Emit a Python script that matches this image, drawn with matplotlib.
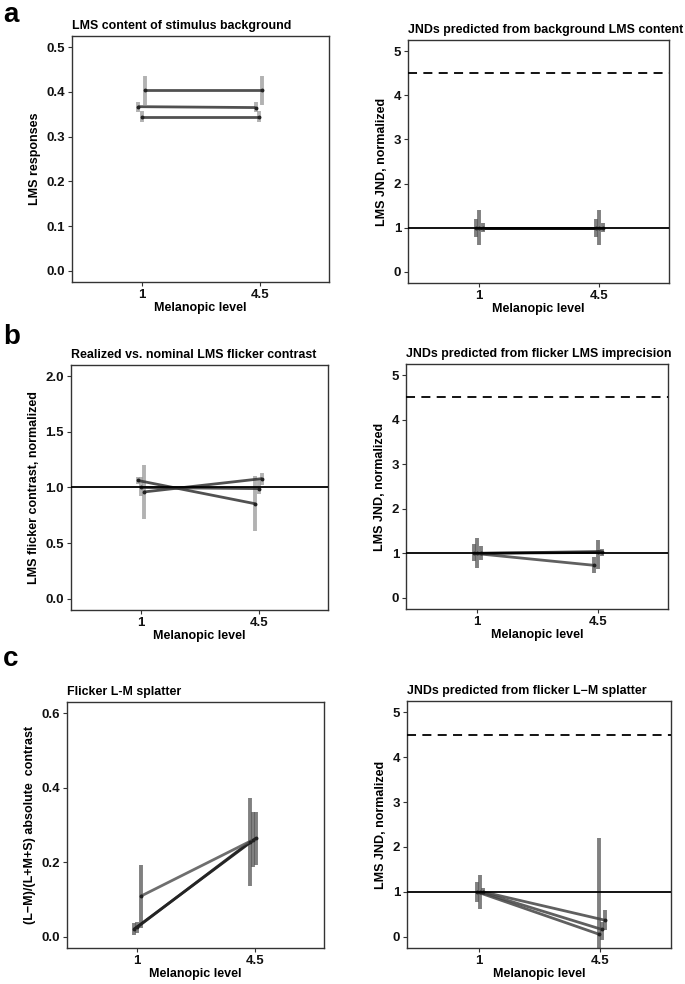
import numpy as np
import matplotlib
matplotlib.use("Agg")
import matplotlib.pyplot as plt

plt.rcParams['font.family'] = ['Liberation Sans', 'DejaVu Sans']
plt.rcParams['font.weight'] = 'bold'

levels = ["1", "4.5"]

# a, left: LMS content of background (mean, lower, upper) per series
a_bg_mean = [[0.404, 0.404], [0.367, 0.365], [0.345, 0.345]]
a_bg_lo = [[0.371, 0.371], [0.354, 0.354], [0.332, 0.332]]
a_bg_hi = [[0.436, 0.436], [0.378, 0.377], [0.358, 0.358]]

# a, right: JNDs from background
a_jnd_mean = [[1.0, 1.0], [1.0, 1.0], [1.0, 1.0]]
a_jnd_lo = [[0.80, 0.80], [0.60, 0.60], [0.90, 0.90]]
a_jnd_hi = [[1.20, 1.20], [1.40, 1.40], [1.10, 1.10]]

# b, left: realized vs nominal flicker contrast
b_flk_mean = [[1.063, 0.854], [1.00, 0.99], [0.96, 1.08]]
b_flk_lo = [[1.03, 0.61], [0.92, 0.94], [0.72, 1.02]]
b_flk_hi = [[1.09, 1.10], [1.09, 1.08], [1.20, 1.13]]

# b, right: JNDs from flicker imprecision
b_jnd_mean = [[1.0, 0.73], [1.0, 1.02], [1.0, 1.04]]
b_jnd_lo = [[0.82, 0.55], [0.66, 0.64], [0.86, 0.95]]
b_jnd_hi = [[1.20, 0.92], [1.35, 1.29], [1.16, 1.10]]

# c, left: L-M splatter
c_spl_mean = [[0.021, 0.265], [0.025, 0.255], [0.109, 0.26]]
c_spl_lo = [[0.004, 0.194], [0.011, 0.136], [0.024, 0.188]]
c_spl_hi = [[0.036, 0.334], [0.039, 0.372], [0.194, 0.335]]

# c, right: JNDs from splatter
c_jnd_mean = [[1.0, 0.06], [1.0, 0.165], [1.0, 0.37]]
c_jnd_lo = [[0.77, -0.40], [0.61, -0.07], [0.93, 0.15]]
c_jnd_hi = [[1.21, 2.19], [1.37, 0.33], [1.08, 0.59]]

W, H = 685, 984
fig = plt.figure(figsize=(W / 100, H / 100), dpi=100)


def make_axes(x0, y0, x1, y1):
    return fig.add_axes([x0 / W, 1 - y1 / H, (x1 - x0) / W, (y1 - y0) / H])


def panel(ax, mean, lo, hi, offs, title, ylabel, ylim, yticks, yfmt,
          errc, linec, ref=False):
    x = np.array([1.0, 2.0])
    for i in range(len(mean)):
        xi = x + np.array(offs[i])
        ax.vlines(xi, lo[i], hi[i], color=errc[i], lw=2.8, alpha=0.75, zorder=2)
    for i in range(len(mean)):
        xi = x + np.array(offs[i])
        ax.plot(xi, mean[i], color=linec[i], lw=2.0, alpha=0.85, zorder=3,
                solid_capstyle='butt')
        ax.plot(xi, mean[i], 'o', color='#222222', ms=1.8, zorder=4)
    if ref:
        ax.axhline(1.0, color='black', lw=1.3, zorder=5)
        ax.axhline(4.5, color='black', lw=1.3, ls=(0, (5, 3.5)), zorder=5)
    ax.set_xlim(0.41, 2.58)
    ax.set_ylim(*ylim)
    ax.set_xticks([1, 2])
    ax.set_xticklabels(levels)
    ax.set_yticks(yticks)
    ax.set_yticklabels([yfmt.format(v) for v in yticks])
    ax.tick_params(length=3, width=0.8, color='#333333', labelsize=9.5,
                   pad=2)
    for lab in ax.get_xticklabels() + ax.get_yticklabels():
        lab.set_fontweight('bold')
        lab.set_color('#111111')
    for s in ax.spines.values():
        s.set_color('#333333')
        s.set_linewidth(1.0)
    ax.set_title(title, loc='left', fontsize=8.9, fontweight='bold', pad=5)
    ax.set_xlabel("Melanopic level", fontsize=9, fontweight='bold', labelpad=1)
    ax.set_ylabel(ylabel, fontsize=9, fontweight='bold', labelpad=4)


light = ['#999999'] * 3
dark = ['#555555'] * 3

ax = make_axes(72, 36, 329, 282)
panel(ax, a_bg_mean, a_bg_lo, a_bg_hi,
      [(0.023, 0.013), (-0.03, -0.04), (-0.003, -0.014)],
      "LMS content of stimulus background", "LMS responses",
      (-0.025, 0.525), [0, 0.1, 0.2, 0.3, 0.4, 0.5], "{:.1f}",
      light, ['#333333'] * 3)

ax = make_axes(408, 40, 669, 283)
panel(ax, a_jnd_mean, a_jnd_lo, a_jnd_hi,
      [(-0.025, -0.025), (0.0, 0.0), (0.03, 0.03)],
      "JNDs predicted from background LMS content", "LMS JND, normalized",
      (-0.25, 5.25), [0, 1, 2, 3, 4, 5], "{:.0f}",
      dark, ['#111111'] * 3, ref=True)

ax = make_axes(71, 365, 328, 610)
panel(ax, b_flk_mean, b_flk_lo, b_flk_hi,
      [(-0.025, -0.034), (0.0, 0.0), (0.025, 0.025)],
      "Realized vs. nominal LMS flicker contrast",
      "LMS flicker contrast, normalized",
      (-0.1, 2.1), [0, 0.5, 1.0, 1.5, 2.0], "{:.1f}",
      light, ['#333333'] * 3)
ax.axhline(1.0, color='black', lw=1.3, zorder=5)

ax = make_axes(406, 364, 668, 609)
panel(ax, b_jnd_mean, b_jnd_lo, b_jnd_hi,
      [(-0.03, -0.03), (0.0, 0.0), (0.03, 0.03)],
      "JNDs predicted from flicker LMS imprecision", "LMS JND, normalized",
      (-0.25, 5.25), [0, 1, 2, 3, 4, 5], "{:.0f}",
      dark, ['#444444', '#222222', '#222222'], ref=True)

ax = make_axes(67, 702, 324, 948)
panel(ax, c_spl_mean, c_spl_lo, c_spl_hi,
      [(-0.022, 0.008), (0.0, -0.044), (0.033, -0.02)],
      "Flicker L-M splatter", "(L\u2212M)/(L+M+S) absolute  contrast",
      (-0.03, 0.63), [0, 0.2, 0.4, 0.6], "{:.1f}",
      dark, ['#111111', '#222222', '#555555'])

ax = make_axes(407, 701, 671, 948)
panel(ax, c_jnd_mean, c_jnd_lo, c_jnd_hi,
      [(-0.015, -0.015), (0.01, 0.01), (0.035, 0.035)],
      "JNDs predicted from flicker L\u2212M splatter", "LMS JND, normalized",
      (-0.25, 5.25), [0, 1, 2, 3, 4, 5], "{:.0f}",
      dark, ['#444444'] * 3, ref=True)

for letter, ypx in [("a", 2), ("b", 324), ("c", 646)]:
    fig.text(3 / W, 1 - ypx / H, letter, fontsize=20, fontweight='bold',
             va='top', ha='left')

fig.savefig("out.png", dpi=100)
